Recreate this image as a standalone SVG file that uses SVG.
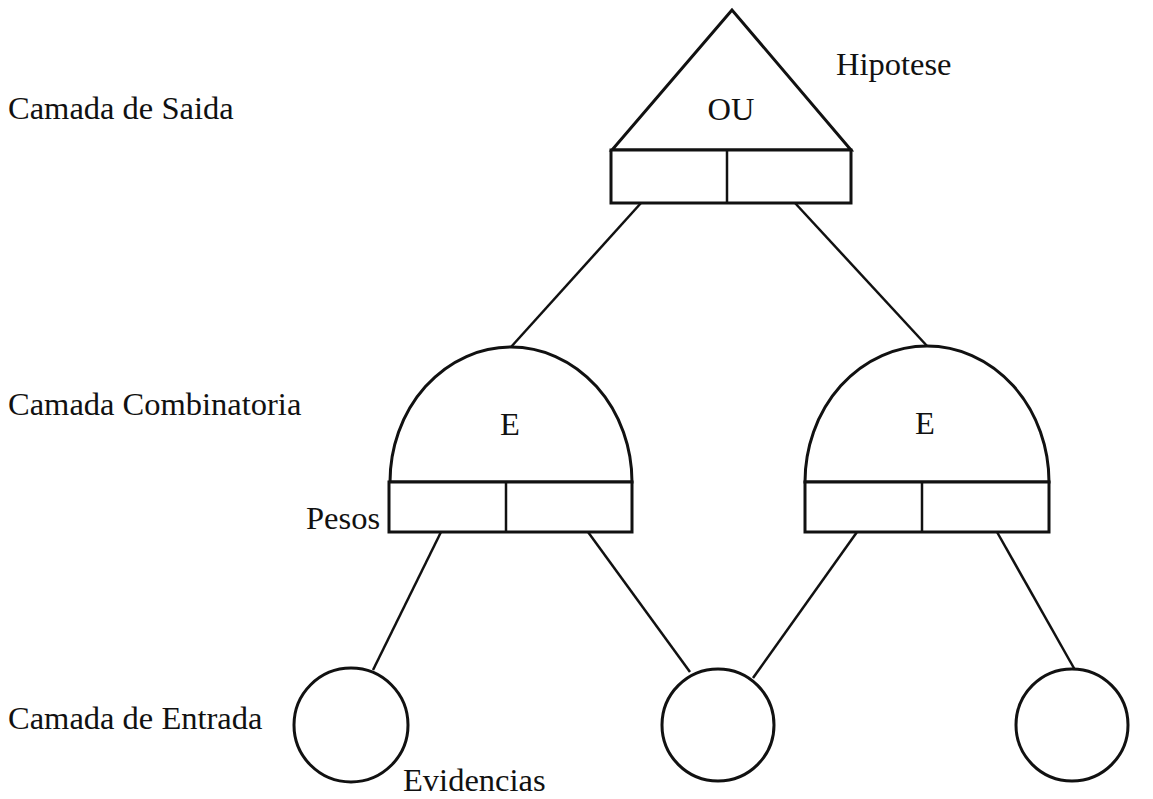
<svg xmlns="http://www.w3.org/2000/svg" width="1153" height="799" viewBox="0 0 1153 799">
  <style>
    .shape { fill: #fff; stroke: #111; stroke-width: 3; }
    .edge { stroke: #111; stroke-width: 2.5; fill: none; }
    .lbl { font-family: "Liberation Serif", "Times New Roman", serif; font-size: 32.5px; fill: #111; }
    .mid { text-anchor: middle; }
  </style>
  <rect width="1153" height="799" fill="#fff"/>

  <!-- layer labels -->
  <text class="lbl" x="8" y="119">Camada de Saida</text>
  <text class="lbl" x="8" y="415">Camada Combinatoria</text>
  <text class="lbl" x="8" y="729">Camada de Entrada</text>

  <!-- connectors -->
  <g id="connectors">
    <line class="edge" x1="641" y1="203" x2="511" y2="347"/>
    <line class="edge" x1="795" y1="203" x2="928" y2="347"/>
    <line class="edge" x1="441" y1="532" x2="373" y2="670"/>
    <line class="edge" x1="588" y1="532" x2="690" y2="672"/>
    <line class="edge" x1="857" y1="532" x2="753" y2="678"/>
    <line class="edge" x1="997" y1="532" x2="1075" y2="670"/>
  </g>

  <!-- OR gate (hypothesis) -->
  <g id="gate-ou">
    <polygon class="shape" points="732,10 612,150 851,150"/>
    <rect class="shape" x="611" y="150" width="240" height="53"/>
    <line class="edge" x1="727" y1="150" x2="727" y2="203"/>
    <text class="lbl mid" x="731" y="120">OU</text>
    <text class="lbl" x="836" y="75">Hipotese</text>
  </g>

  <!-- AND gate, left -->
  <g id="gate-e-left">
    <path class="shape" d="M390,482 A121,135 0 0 1 632,482 Z"/>
    <rect class="shape" x="389" y="482" width="243" height="50"/>
    <line class="edge" x1="506" y1="482" x2="506" y2="532"/>
    <text class="lbl mid" x="510" y="435">E</text>
    <text class="lbl" x="306" y="529">Pesos</text>
  </g>

  <!-- AND gate, right -->
  <g id="gate-e-right">
    <path class="shape" d="M805,482 A122,136 0 0 1 1049,482 Z"/>
    <rect class="shape" x="805" y="482" width="244" height="50"/>
    <line class="edge" x1="922" y1="482" x2="922" y2="532"/>
    <text class="lbl mid" x="925" y="434">E</text>
  </g>

  <!-- evidence inputs -->
  <g id="input-1">
    <circle class="shape" cx="351" cy="725" r="57"/>
    <text class="lbl" x="403" y="791">Evidencias</text>
  </g>
  <g id="input-2">
    <circle class="shape" cx="718" cy="725" r="56"/>
  </g>
  <g id="input-3">
    <circle class="shape" cx="1072" cy="725" r="56"/>
  </g>
</svg>
